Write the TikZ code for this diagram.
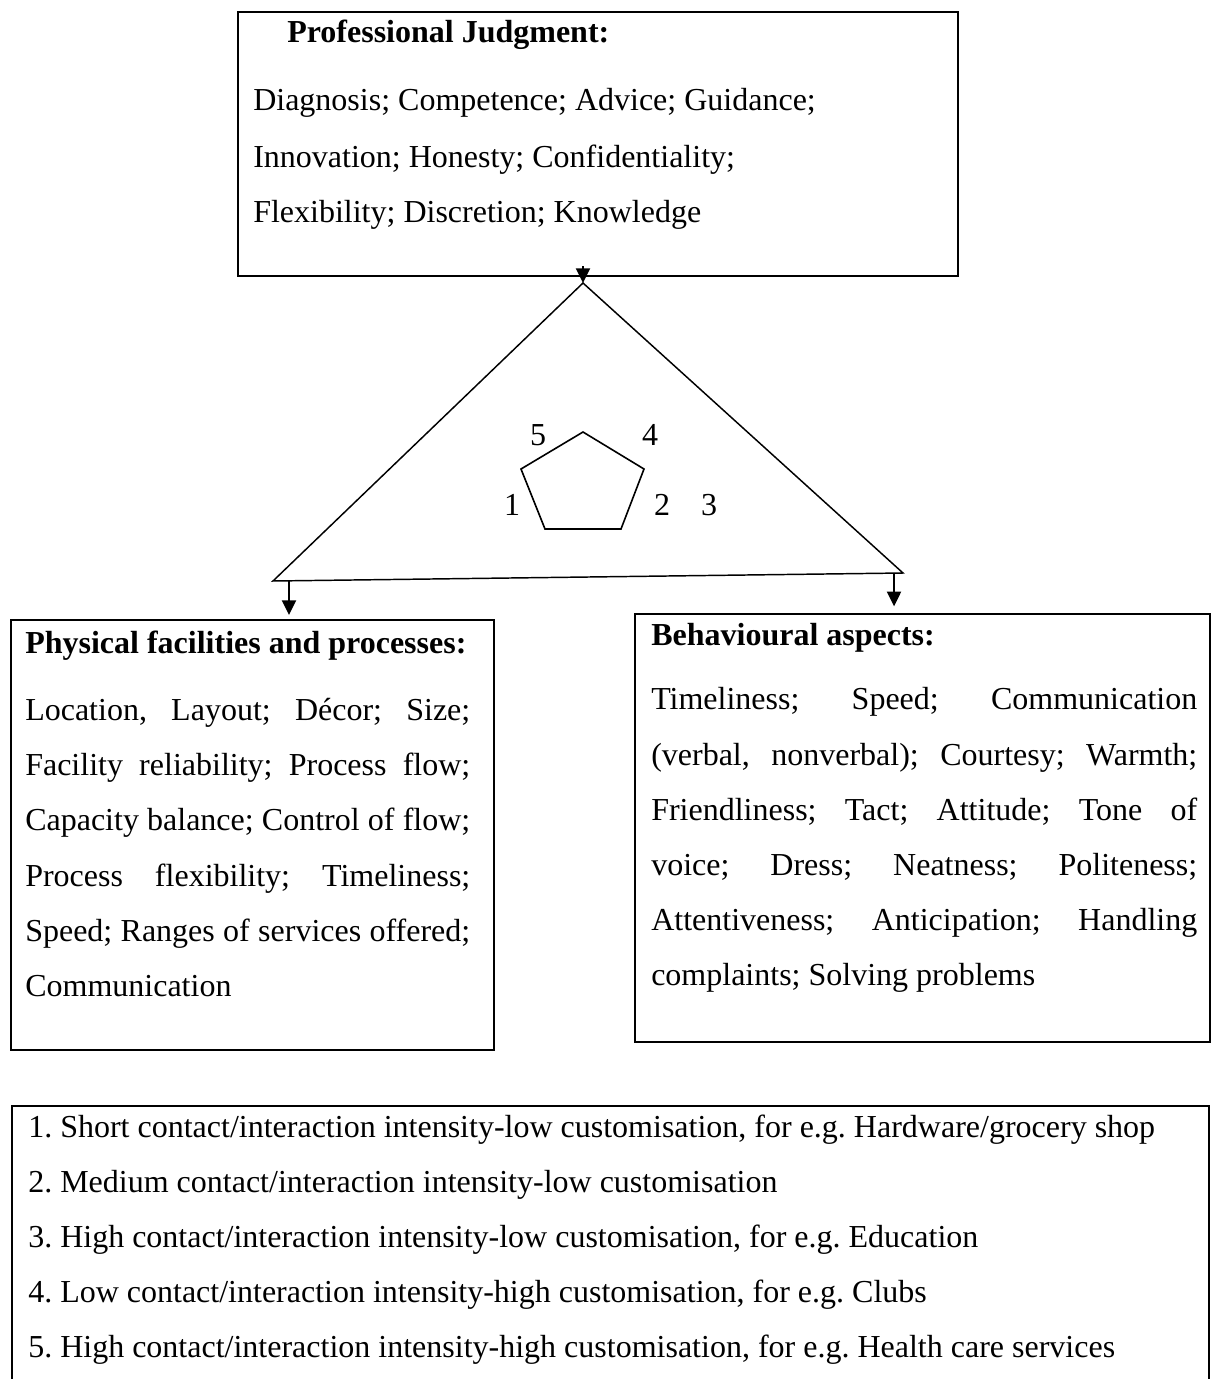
\documentclass[tikz,border=0pt]{standalone}
\usepackage{fontspec}
\setmainfont{Liberation Serif}
\usetikzlibrary{arrows.meta}
\frenchspacing
\begin{document}
\begin{tikzpicture}[x=0.75pt,y=-0.75pt,
  box/.style={draw, line width=1.5pt, inner sep=0pt},
  txt/.style={anchor=base west, inner sep=0pt, font=\fontsize{24}{28}\selectfont},
  ttl/.style={anchor=base west, inner sep=0pt, font=\fontsize{24}{28}\selectfont\bfseries},
  lbl/.style={inner sep=0pt, font=\fontsize{24}{28}\selectfont},
  tri/.style={line width=1.1pt, line join=miter},
  pent/.style={line width=1.2pt, line join=miter},
  arr/.style={line width=1.5pt, -{Triangle[length=11pt,width=10.5pt]}}]
\useasboundingbox (0,0) rectangle (1211,1379);

% boxes
\node[box, minimum width=540pt, minimum height=198pt] (pj) at (598,144) {};
\node[box, minimum width=362.25pt, minimum height=322.5pt] (lb) at (252.5,835) {};
\node[box, minimum width=431.25pt, minimum height=321pt] (rb) at (922.5,828) {};
\node[box, minimum width=897.75pt, minimum height=220.5pt] (kb) at (610.5,1253) {};

% triangle
\coordinate (apex) at (583,283);
\coordinate (bl) at (273,581);
\coordinate (br) at (903,573);
\draw[tri] (bl) -- (apex) -- (br) -- cycle;
\coordinate (la) at (289,580.8);
\coordinate (ra) at (894,573.1);

% arrows
\draw[arr] ([yshift=8pt]apex |- pj.south) -- (apex);
\draw[arr, shorten >=3pt] (la) -- (la |- lb.north);
\draw[arr, shorten >=5pt] (ra) -- (ra |- rb.north);

% pentagon
\draw[pent] (583,432) -- (644,469) -- (621,529) -- (545,529) -- (521,469) -- cycle;
\node[lbl] (n5) at (538,435) {5};
\node[lbl] (n4) at (650,435) {4};
\node[lbl] (n1) at (512,505) {1};
\node[lbl] (n2) at (662,505) {2};
\node[lbl] (n3) at (709,505) {3};

% top box text
\node[ttl] (pjt) at (287,42) {Professional Judgment:};
\node[txt] (pj1) at (253,110) {Diagnosis; Competence; Advice; Guidance;};
\node[txt] (pj2) at (253,167) {Innovation; Honesty; Confidentiality;};
\node[txt] (pj3) at (253,222) {Flexibility; Discretion; Knowledge};

% left box text
\node[ttl] (lbt) at (25,653) {Physical facilities and processes:};
\node[txt] (lb1) at (25,720) {\makebox[333.75pt][s]{Location, Layout; Décor; Size;}};
\node[txt] (lb2) at (25,775) {\makebox[333.75pt][s]{Facility reliability; Process flow;}};
\node[txt] (lb3) at (25,830) {\makebox[333.75pt][s]{Capacity balance; Control of flow;}};
\node[txt] (lb4) at (25,886) {\makebox[333.75pt][s]{Process flexibility; Timeliness;}};
\node[txt] (lb5) at (25,941) {\makebox[333.75pt][s]{Speed; Ranges of services offered;}};
\node[txt] (lb6) at (25,996) {Communication};

% right box text
\node[ttl] (rbt) at (651,645) {Behavioural aspects:};
\node[txt] (rb1) at (651,709) {\makebox[409.5pt][s]{Timeliness; Speed; Communication}};
\node[txt] (rb2) at (651,765) {\makebox[409.5pt][s]{(verbal, nonverbal); Courtesy; Warmth;}};
\node[txt] (rb3) at (651,820) {\makebox[409.5pt][s]{Friendliness; Tact; Attitude; Tone of}};
\node[txt] (rb4) at (651,875) {\makebox[409.5pt][s]{voice; Dress; Neatness; Politeness;}};
\node[txt] (rb5) at (651,930) {\makebox[409.5pt][s]{Attentiveness; Anticipation; Handling}};
\node[txt] (rb6) at (651,985) {complaints; Solving problems};

% key box text
\node[txt] (k1) at (28,1137) {1. Short contact/interaction intensity-low customisation, for e.g. Hardware/grocery shop};
\node[txt] (k2) at (28,1192) {2. Medium contact/interaction intensity-low customisation};
\node[txt] (k3) at (28,1247) {3. High contact/interaction intensity-low customisation, for e.g. Education};
\node[txt] (k4) at (28,1302) {4. Low contact/interaction intensity-high customisation, for e.g. Clubs};
\node[txt] (k5) at (28,1357) {5. High contact/interaction intensity-high customisation, for e.g. Health care services};
\end{tikzpicture}
\end{document}
